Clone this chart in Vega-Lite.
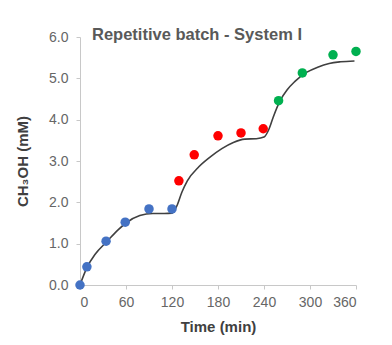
{
  "$schema": "https://vega.github.io/schema/vega-lite/v6.json",
  "autosize": "none",
  "width": 276,
  "height": 248,
  "padding": {"left": 80, "top": 37, "right": 36, "bottom": 60},
  "background": "white",
  "config": {
    "view": {"stroke": null},
    "font": "Liberation Sans",
    "axis": {"grid": false, "domainColor": "#c8c8c8", "tickColor": "#c8c8c8", "labelColor": "#666666", "labelFontSize": 14, "titleColor": "#404040", "titleFontSize": 15, "titleFontWeight": "bold"}
  },
  "title": {"text": "Repetitive batch - System I", "anchor": "start", "frame": "group", "dx": 12, "offset": -13, "fontSize": 16.5, "fontWeight": "bold", "color": "#595959", "font": "Liberation Sans"},
  "datasets": {
    "points": [
      {"t": 0, "c": 0.0, "batch": "1"},
      {"t": 9, "c": 0.44, "batch": "1"},
      {"t": 34, "c": 1.06, "batch": "1"},
      {"t": 59, "c": 1.52, "batch": "1"},
      {"t": 90, "c": 1.84, "batch": "1"},
      {"t": 120, "c": 1.84, "batch": "1"},
      {"t": 129, "c": 2.52, "batch": "2"},
      {"t": 149, "c": 3.15, "batch": "2"},
      {"t": 180, "c": 3.61, "batch": "2"},
      {"t": 210, "c": 3.68, "batch": "2"},
      {"t": 239, "c": 3.78, "batch": "2"},
      {"t": 259, "c": 4.46, "batch": "3"},
      {"t": 290, "c": 5.13, "batch": "3"},
      {"t": 330, "c": 5.57, "batch": "3"},
      {"t": 360, "c": 5.65, "batch": "3"}
    ],
    "fit": [
      {"t": 0, "c": 0.0},
      {"t": 9, "c": 0.42},
      {"t": 20, "c": 0.75},
      {"t": 35, "c": 1.05},
      {"t": 50, "c": 1.34},
      {"t": 60, "c": 1.5},
      {"t": 78, "c": 1.68},
      {"t": 95, "c": 1.73},
      {"t": 110, "c": 1.73},
      {"t": 120, "c": 1.74},
      {"t": 126, "c": 1.9},
      {"t": 133, "c": 2.25},
      {"t": 140, "c": 2.52},
      {"t": 155, "c": 2.86},
      {"t": 170, "c": 3.1},
      {"t": 185, "c": 3.3},
      {"t": 200, "c": 3.45},
      {"t": 215, "c": 3.53},
      {"t": 230, "c": 3.54},
      {"t": 240, "c": 3.58},
      {"t": 246, "c": 3.75},
      {"t": 252, "c": 4.06},
      {"t": 261, "c": 4.46},
      {"t": 270, "c": 4.72},
      {"t": 280, "c": 4.92},
      {"t": 296, "c": 5.15},
      {"t": 310, "c": 5.27},
      {"t": 325, "c": 5.36},
      {"t": 340, "c": 5.4},
      {"t": 358, "c": 5.42}
    ]
  },
  "layer": [
    {
      "data": {"name": "fit"},
      "mark": {"type": "line", "color": "#404040", "strokeWidth": 1.6, "interpolate": "monotone"},
      "encoding": {
        "x": {"field": "t", "type": "quantitative", "scale": {"domain": [0, 360], "nice": false},
          "axis": {"title": "Time (min)", "values": [0, 30, 60, 90, 120, 150, 180, 210, 240, 270, 300, 330, 360], "labelExpr": "datum.value % 60 == 0 ? datum.label : ''", "tickSize": 4, "labelPadding": 6, "titlePadding": 10, "labelOverlap": false}},
        "y": {"field": "c", "type": "quantitative", "scale": {"domain": [0, 6], "nice": false},
          "axis": {"title": "CH₃OH (mM)", "values": [0, 0.5, 1, 1.5, 2, 2.5, 3, 3.5, 4, 4.5, 5, 5.5, 6], "format": ".1f", "labelExpr": "datum.value % 1 == 0 ? datum.label : ''", "tickSize": 4, "labelPadding": 8, "titlePadding": 18, "labelOverlap": false}}
      }
    },
    {
      "data": {"name": "points"},
      "mark": {"type": "circle", "size": 90, "opacity": 1, "clip": false},
      "encoding": {
        "x": {"field": "t", "type": "quantitative"},
        "y": {"field": "c", "type": "quantitative"},
        "color": {"field": "batch", "type": "nominal", "scale": {"domain": ["1", "2", "3"], "range": ["#4472C4", "#FF0000", "#00B050"]}, "legend": null}
      }
    }
  ]
}
